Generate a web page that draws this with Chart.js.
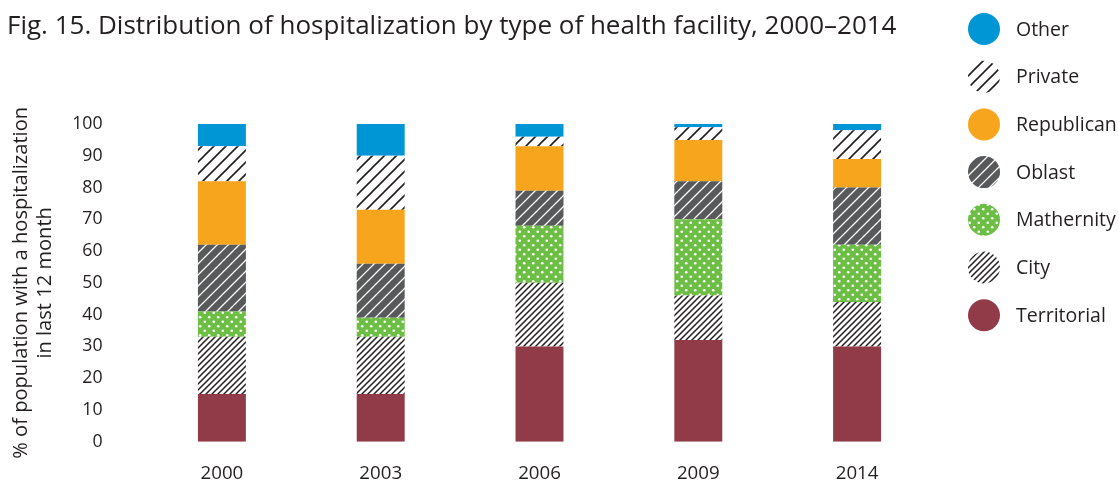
<!DOCTYPE html>
<html>
<head>
<meta charset="utf-8">
<script src="https://cdn.jsdelivr.net/npm/chart.js@4"></script>
<style>
html,body{margin:0;padding:0;background:#fff;}
#wrap{position:relative;width:1119px;height:482px;}
</style>
</head>
<body>
<div id="wrap"><canvas id="c" width="1119" height="482"></canvas></div>
<script>
const categories = ['2000', '2003', '2006', '2009', '2014'];
const territorial = [15, 15, 30, 32, 30];
const city        = [18, 18, 20, 14, 14];
const mathernity  = [8, 6, 18, 24, 18];
const oblast      = [21, 17, 11, 12, 18];
const republican  = [20, 17, 14, 13, 9];
const privateF    = [11, 17, 3, 4, 9];
const other       = [7, 10, 4, 1, 2];
const yTicks = [0, 10, 20, 30, 40, 50, 60, 70, 80, 90, 100];

const FONT = "'Open Sans', 'Noto Sans', sans-serif";
const TXT = '#231f20';

function hatch(bg, fg, size, lw) {
  const c = document.createElement('canvas');
  c.width = size; c.height = size;
  const g = c.getContext('2d');
  if (bg) { g.fillStyle = bg; g.fillRect(0, 0, size, size); }
  g.strokeStyle = fg; g.lineWidth = lw; g.lineCap = 'square';
  g.beginPath();
  g.moveTo(0, size); g.lineTo(size, 0);
  g.moveTo(-size / 2, size / 2); g.lineTo(size / 2, -size / 2);
  g.moveTo(size / 2, size * 1.5); g.lineTo(size * 1.5, size / 2);
  g.stroke();
  return g.createPattern(c, 'repeat');
}
function dots(bg, fg, size, r) {
  const c = document.createElement('canvas');
  c.width = size; c.height = size;
  const g = c.getContext('2d');
  g.fillStyle = bg; g.fillRect(0, 0, size, size);
  g.fillStyle = fg;
  [[size * 0.25, size * 0.25], [size * 0.75, size * 0.75]].forEach(p => {
    g.beginPath(); g.arc(p[0], p[1], r, 0, Math.PI * 2); g.fill();
  });
  return g.createPattern(c, 'repeat');
}

const ctx0 = document.getElementById('c').getContext('2d');
const pPrivate = hatch('#ffffff', '#231f20', 12, 1.6);
const pCity = hatch('#ffffff', '#231f20', 6, 1.5);
const pOblast = hatch('#58595b', '#ffffff', 11, 1.3);
const pMat = dots('#6dbe45', '#ffffff', 9, 1.3);

const series = [
  { label: 'Territorial', data: territorial, fill: '#923b48' },
  { label: 'City', data: city, fill: pCity },
  { label: 'Mathernity', data: mathernity, fill: pMat },
  { label: 'Oblast', data: oblast, fill: pOblast },
  { label: 'Republican', data: republican, fill: '#f7a51d' },
  { label: 'Private', data: privateF, fill: pPrivate },
  { label: 'Other', data: other, fill: '#0096d6' }
];

const overlay = {
  id: 'overlay',
  afterDraw(chart) {
    const ctx = chart.ctx;
    ctx.save();
    ctx.fillStyle = TXT;
    ctx.textBaseline = 'middle';
    ctx.textAlign = 'left';
    ctx.font = "26px " + FONT;
    ctx.fillText('Fig. 15. Distribution of hospitalization by type of health facility, 2000\u20132014', 7, 27);
    const items = series.slice().reverse();
    items.forEach((s, i) => {
      const cy = 29 + i * 47.7;
      ctx.beginPath();
      ctx.arc(984, cy, 16, 0, Math.PI * 2);
      ctx.fillStyle = s.fill;
      ctx.fill();
      ctx.fillStyle = TXT;
      ctx.font = "19.5px " + FONT;
      ctx.fillText(s.label, 1016, cy + 1);
    });
    ctx.restore();
  }
};

new Chart(ctx0, {
  type: 'bar',
  data: {
    labels: categories,
    datasets: series.map(s => ({
      label: s.label,
      data: s.data,
      backgroundColor: s.fill,
      borderWidth: 0,
      barPercentage: 0.302,
      categoryPercentage: 1
    }))
  },
  options: {
    responsive: false,
    animation: false,
    devicePixelRatio: 1,
    layout: { padding: { top: 124, right: 182.5, left: 0, bottom: 0 } },
    plugins: { legend: { display: false }, title: { display: false }, tooltip: { enabled: false } },
    scales: {
      x: {
        stacked: true,
        grid: { display: false, drawTicks: false },
        border: { display: false },
        ticks: { color: TXT, font: { family: FONT, size: 18.7 }, padding: 21 },
        afterFit(s) { s.height = 40.3; }
      },
      y: {
        stacked: true,
        min: 0, max: 100,
        afterBuildTicks(s) { s.ticks = yTicks.map(v => ({ value: v })); },
        grid: { display: false, drawTicks: false },
        border: { display: false },
        ticks: { color: TXT, font: { family: FONT, size: 17.7 }, padding: 40 },
        title: {
          display: true,
          text: ['% of population with a hospitalization', 'in last 12 month'],
          color: TXT,
          font: { family: FONT, size: 20.1, lineHeight: '24px' },
          padding: { top: 9, bottom: 0 }
        },
        afterFit(s) { s.width = 142.5; s.paddingTop = 10; s.paddingBottom = 10; }
      }
    }
  },
  plugins: [overlay]
});
</script>
</body>
</html>
